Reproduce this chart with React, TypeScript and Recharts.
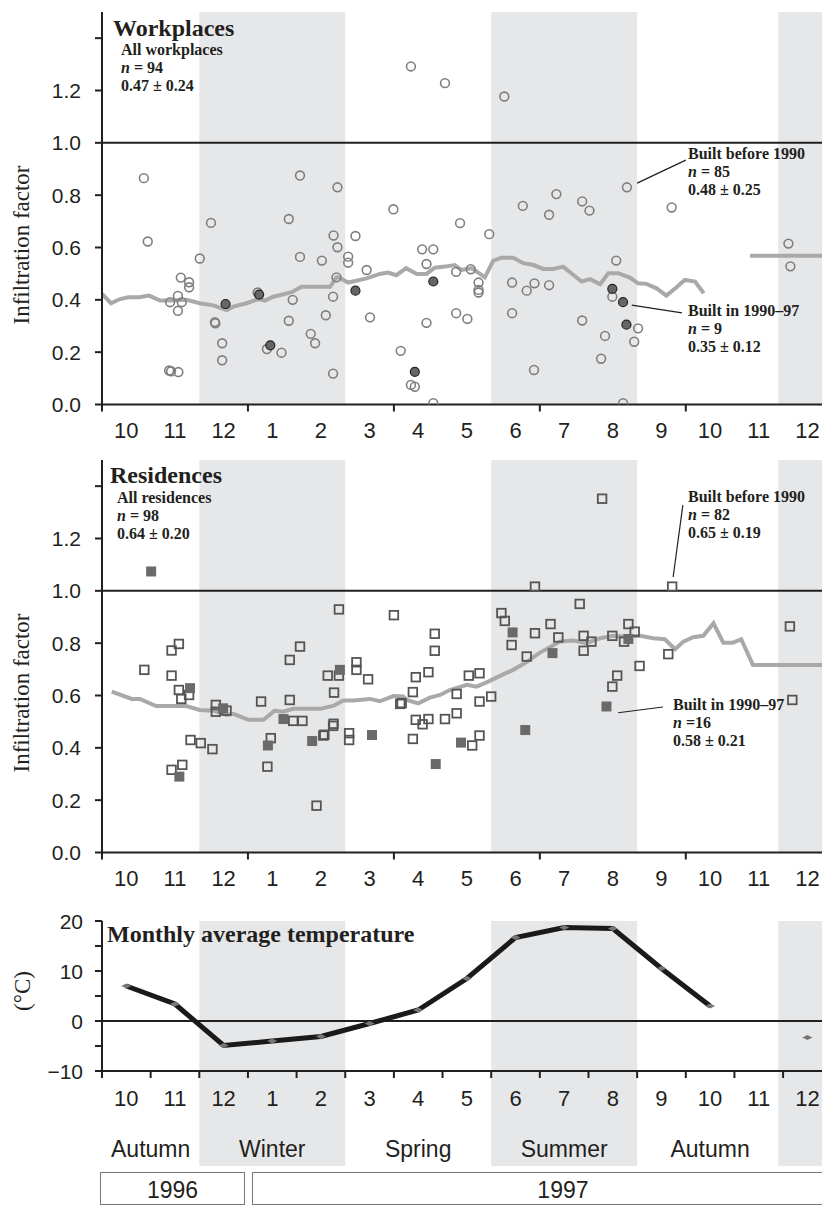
import React from 'react';
import {
  ComposedChart,
  XAxis,
  YAxis,
  Scatter,
  Line,
  ReferenceArea,
  ReferenceLine,
} from 'recharts';

// months shown on every panel, Oct 1996 .. Dec 1997 (x = months since 1 Oct 1996)
const MONTHS = ['10', '11', '12', '1', '2', '3', '4', '5', '6', '7', '8', '9', '10', '11', '12'];
const XMAX = 14.8;

const SEASONS = [
  { name: 'Autumn', from: 0, to: 2, shaded: false },
  { name: 'Winter', from: 2, to: 5, shaded: true },
  { name: 'Spring', from: 5, to: 8, shaded: false },
  { name: 'Summer', from: 8, to: 11, shaded: true },
  { name: 'Autumn', from: 11, to: 14, shaded: false },
  { name: '', from: 13.9, to: 15, shaded: true },
];

const YEARS = [
  { name: '1996', from: -0.04, to: 2.94 },
  { name: '1997', from: 3.08, to: 15.87 },
];

// workplaces, [month, infiltration factor]
const wpBefore1990 = [
  [6.35, 1.292], [0.86, 0.865], [4.07, 0.875], [4.84, 0.83], [5.99, 0.746], [2.24, 0.694],
  [3.84, 0.709], [7.05, 1.228], [8.27, 1.177], [10.79, 0.83], [9.34, 0.804], [8.65, 0.759],
  [9.87, 0.776], [10.02, 0.741], [11.71, 0.753], [9.19, 0.725], [7.36, 0.693], [0.94, 0.623],
  [2.01, 0.558], [5.21, 0.644], [4.76, 0.646], [4.84, 0.601], [4.07, 0.564], [4.52, 0.55],
  [5.06, 0.565], [5.06, 0.542], [5.44, 0.514], [4.82, 0.486], [1.62, 0.485], [1.79, 0.467],
  [1.79, 0.448], [1.56, 0.415], [1.4, 0.391], [1.64, 0.391], [1.56, 0.358], [3.2, 0.428],
  [3.92, 0.4], [4.75, 0.412], [5.51, 0.333], [2.32, 0.315], [2.33, 0.31], [3.84, 0.32],
  [4.6, 0.341], [4.29, 0.27], [4.38, 0.234], [2.47, 0.234], [3.39, 0.212], [3.69, 0.198],
  [2.47, 0.169], [1.38, 0.13], [1.42, 0.127], [1.57, 0.124], [4.75, 0.118], [6.14, 0.205],
  [6.35, 0.075], [6.43, 0.068], [6.58, 0.593], [6.81, 0.593], [7.96, 0.651], [6.67, 0.537],
  [7.28, 0.507], [7.58, 0.517], [7.74, 0.466], [7.74, 0.438], [7.74, 0.428], [8.43, 0.466],
  [8.73, 0.435], [8.89, 0.463], [9.19, 0.456], [10.57, 0.55], [10.49, 0.412], [7.28, 0.349],
  [7.51, 0.327], [8.43, 0.349], [6.67, 0.312], [9.87, 0.321], [11.02, 0.291], [10.94, 0.24],
  [10.34, 0.262], [10.26, 0.175], [8.88, 0.132], [6.81, 0.005], [10.71, 0.005], [14.11, 0.615],
  [14.15, 0.528],
];
const wpBuilt9097 = [
  [2.54, 0.384], [3.23, 0.42], [3.46, 0.226], [5.21, 0.435], [6.43, 0.125],
  [6.81, 0.47], [10.49, 0.442], [10.71, 0.391], [10.78, 0.305],
];
const wpTrend = [
  [0, 0.423], [0.185, 0.387], [0.37, 0.403], [0.54, 0.41], [0.76, 0.41], [0.97, 0.416],
  [1.19, 0.397], [1.42, 0.397], [1.74, 0.4], [2.01, 0.387], [2.29, 0.379], [2.56, 0.361],
  [2.7, 0.374], [2.97, 0.387], [3.22, 0.403], [3.35, 0.397], [3.52, 0.412], [3.9, 0.429],
  [4.1, 0.45], [4.69, 0.45], [4.82, 0.486], [4.86, 0.486], [5.06, 0.466], [5.44, 0.482],
  [5.71, 0.499], [5.88, 0.504], [6.05, 0.494], [6.25, 0.521], [6.47, 0.499], [6.67, 0.499],
  [6.84, 0.523], [7.05, 0.527], [7.25, 0.533], [7.39, 0.514], [7.6, 0.521], [7.87, 0.486],
  [8.04, 0.549], [8.21, 0.561], [8.45, 0.561], [8.66, 0.54], [8.87, 0.533], [9.07, 0.518],
  [9.28, 0.518], [9.48, 0.527], [9.69, 0.495], [9.86, 0.47], [10.03, 0.479], [10.24, 0.46],
  [10.41, 0.502], [10.61, 0.502], [10.85, 0.485], [11.02, 0.463], [11.19, 0.461], [11.4, 0.444],
  [11.6, 0.416], [11.81, 0.448], [11.98, 0.476], [12.19, 0.47], [12.37, 0.425], [12.8, null],
  [13.32, 0.568], [14.8, 0.568],
];

// residences
const resBefore1990 = [
  [4.87, 0.929], [6.0, 0.907], [1.58, 0.797], [10.28, 1.352], [8.9, 1.016], [11.72, 1.016],
  [9.82, 0.95], [8.21, 0.915], [8.28, 0.885], [9.22, 0.873], [10.82, 0.873], [10.95, 0.844],
  [14.14, 0.864], [6.84, 0.836], [8.9, 0.838], [8.42, 0.793], [9.38, 0.822], [9.9, 0.828],
  [9.9, 0.771], [10.06, 0.806], [10.49, 0.828], [10.73, 0.806], [6.84, 0.771], [8.73, 0.749],
  [11.64, 0.758], [11.05, 0.713], [10.59, 0.676], [10.49, 0.634], [14.19, 0.583], [6.45, 0.67],
  [6.71, 0.689], [7.54, 0.676], [7.76, 0.685], [6.39, 0.613], [7.29, 0.606], [6.16, 0.571],
  [7.76, 0.577], [8.0, 0.596], [6.45, 0.507], [6.59, 0.49], [6.71, 0.51], [7.05, 0.51],
  [7.29, 0.532], [6.39, 0.434], [7.76, 0.447], [7.61, 0.409], [0.87, 0.698], [1.43, 0.772],
  [1.43, 0.676], [1.58, 0.621], [1.63, 0.587], [1.79, 0.602], [1.82, 0.43], [2.03, 0.418],
  [2.27, 0.395], [1.43, 0.316], [1.65, 0.335], [2.34, 0.564], [2.34, 0.538], [2.56, 0.542],
  [3.27, 0.577], [3.86, 0.736], [4.07, 0.787], [3.86, 0.583], [3.93, 0.503], [4.12, 0.503],
  [3.47, 0.437], [3.4, 0.328], [4.64, 0.676], [4.87, 0.676], [4.77, 0.611], [4.75, 0.484],
  [4.76, 0.492], [4.55, 0.447], [4.57, 0.45], [4.41, 0.179], [5.23, 0.727], [5.23, 0.698],
  [5.47, 0.662], [5.08, 0.456], [5.08, 0.43], [6.13, 0.568],
];
const resBuilt9097 = [
  [1.01, 1.074], [8.44, 0.841], [10.82, 0.816], [9.26, 0.762], [10.37, 0.558], [7.38, 0.42],
  [6.86, 0.338], [8.7, 0.468], [1.81, 0.628], [1.59, 0.29], [2.49, 0.551], [3.73, 0.51],
  [3.41, 0.409], [4.89, 0.698], [4.32, 0.426], [5.55, 0.449],
];
const resTrend = [
  [0.2, 0.615], [0.61, 0.587], [0.78, 0.587], [1.11, 0.56], [1.73, 0.56], [2.01, 0.545],
  [2.29, 0.542], [2.56, 0.526], [2.7, 0.53], [3.01, 0.507], [3.32, 0.507], [3.55, 0.542],
  [3.72, 0.538], [3.93, 0.549], [4.48, 0.549], [4.75, 0.56], [4.96, 0.581], [5.17, 0.581],
  [5.51, 0.587], [5.71, 0.578], [5.99, 0.598], [6.19, 0.596], [6.26, 0.583], [6.5, 0.57],
  [6.74, 0.592], [6.95, 0.602], [7.15, 0.621], [7.5, 0.641], [7.7, 0.634], [7.94, 0.653],
  [8.18, 0.675], [8.45, 0.698], [8.69, 0.723], [9.0, 0.764], [9.17, 0.781], [9.41, 0.806],
  [9.69, 0.81], [9.96, 0.8], [10.24, 0.819], [10.51, 0.828], [10.78, 0.825], [11.06, 0.828],
  [11.33, 0.819], [11.57, 0.815], [11.78, 0.777], [11.95, 0.806], [12.15, 0.823], [12.36, 0.828],
  [12.57, 0.876], [12.77, 0.802], [12.97, 0.802], [13.14, 0.815], [13.38, 0.717], [14.8, 0.717],
];

// monthly average temperature (°C), one per month label, Nov 1997 missing
const TEMPS = [7.0, 3.4, -4.9, -4.0, -3.1, -0.5, 2.2, 8.5, 16.7, 18.7, 18.5, 10.5, 3.0, null, -3.3];

const FACTOR_TICKS = [0, 0.2, 0.4, 0.6, 0.8, 1.0, 1.2, 1.4];
const TEMP_TICKS = [-10, -5, 0, 5, 10, 15, 20];

const INK = '#231f20';
const BAND = '#e6e7e9';
const SANS = '"Liberation Sans", Arial, sans-serif';
const SERIF = '"Liberation Serif", "Times New Roman", serif';

const rows = (pts: (number | null)[][]) => pts.map(([m, v]) => ({ m, v }));
const tempRows = TEMPS.map((v, i) => ({ m: i + 0.5, v }));
const X_TICKS = MONTHS.flatMap((_, i) => [i, i + 0.5]);
const QUARTER_MARKS = [0, 3, 6, 9, 12];
const MONTH_MARKS = MONTHS.map((_, i) => i);
const SHADED = SEASONS.filter((s) => s.shaded);

function monthTick(marks: number[], labelDy: number) {
  return (props: any) => {
    const { x, y, payload } = props;
    const v = payload.value;
    if (Number.isInteger(v)) {
      if (!marks.includes(v)) return <g />;
      return <line x1={x} x2={x} y1={y} y2={y + 7} stroke={INK} strokeWidth={2} />;
    }
    return (
      <text x={x} y={y + labelDy} textAnchor="middle" fontSize={22} fontFamily={SANS} fill={INK}>
        {MONTHS[Math.floor(v)]}
      </text>
    );
  };
}

function valueTick(show: (v: number) => boolean, fmt: (v: number) => string) {
  return (props: any) => {
    const { x, y, payload } = props;
    if (!show(payload.value)) return <g />;
    return (
      <text x={x} y={y} dy="0.36em" textAnchor="end" fontSize={21} fontFamily={SANS} fill={INK}>
        {fmt(payload.value)}
      </text>
    );
  };
}

const openCircle = (p: any) => (
  <circle cx={p.cx} cy={p.cy} r={4.4} fill="none" stroke="#7f7f7f" strokeWidth={1.6} />
);
const filledCircle = (p: any) => (
  <circle cx={p.cx} cy={p.cy} r={4.5} fill="#666" stroke="#222" strokeWidth={1.2} />
);
const openSquare = (p: any) => (
  <rect x={p.cx - 4.3} y={p.cy - 4.3} width={8.6} height={8.6} fill="none" stroke="#555" strokeWidth={1.8} />
);
const filledSquare = (p: any) => (
  <rect x={p.cx - 5} y={p.cy - 5} width={10} height={10} fill="#6a6a6a" />
);

function Stats({ x, y, title, n, stat }: { x: number; y: number; title: string; n: string; stat: string }) {
  return (
    <text fontFamily={SERIF} fontWeight="bold" fontSize={16} fill={INK}>
      <tspan x={x} y={y}>{title}</tspan>
      <tspan x={x} y={y + 18}>
        <tspan fontStyle="italic">n</tspan>
        {n}
      </tspan>
      <tspan x={x} y={y + 35.5}>{stat}</tspan>
    </text>
  );
}

// svg laid over a chart so that the notes sit above the shaded bands
function Overlay({ height, children }: { height: number; children: React.ReactNode }) {
  return (
    <svg width={822} height={height} style={{ position: 'absolute', left: 0, top: 0, pointerEvents: 'none' }}>
      {children}
    </svg>
  );
}

function FactorPanel(props: {
  top: number;
  open: any[];
  filled: any[];
  trend: any[];
  openShape: any;
  filledShape: any;
  leaders: { x: number; y: number }[][];
  notes: React.ReactNode;
}) {
  return (
    <div style={{ position: 'absolute', left: 0, top: props.top, width: 822, height: 450 }}>
      <ComposedChart width={822} height={450} margin={{ top: 12, right: 0, bottom: 0, left: 0 }}>
        <XAxis
          type="number"
          dataKey="m"
          domain={[0, XMAX]}
          allowDataOverflow
          ticks={X_TICKS}
          interval={0}
          tickSize={0}
          tickMargin={0}
          tickLine={false}
          axisLine={{ stroke: INK, strokeWidth: 2 }}
          tick={monthTick(QUARTER_MARKS, 33)}
          height={45.5}
        />
        <YAxis
          type="number"
          dataKey="v"
          domain={[0, 1.5]}
          allowDataOverflow
          ticks={FACTOR_TICKS}
          interval={0}
          width={102}
          tickSize={7}
          tickMargin={14}
          axisLine={{ stroke: INK, strokeWidth: 2 }}
          tickLine={{ stroke: INK, strokeWidth: 2 }}
          tick={valueTick((v) => v < 1.3, (v) => v.toFixed(1))}
        />
        {SHADED.map((s) => (
          <ReferenceArea key={s.from} x1={s.from} x2={Math.min(s.to, XMAX)} y1={0} y2={1.5}
            fill={BAND} fillOpacity={1} stroke="none" />
        ))}
        <ReferenceLine y={1} stroke={INK} strokeWidth={2} />
        {props.leaders.map((seg, i) => (
          <ReferenceLine key={i} segment={seg} stroke={INK} strokeWidth={1.2} />
        ))}
        <Line data={props.trend} dataKey="v" stroke="#a9a9a9" strokeWidth={4} dot={false}
          connectNulls={false} isAnimationActive={false} />
        <Scatter data={props.open} dataKey="v" shape={props.openShape} isAnimationActive={false} />
        <Scatter data={props.filled} dataKey="v" shape={props.filledShape} isAnimationActive={false} />
      </ComposedChart>
      <Overlay height={450}>
        <text x={21} y={245} transform="rotate(-90 21 245)" textAnchor="middle" dominantBaseline="central"
          fontFamily={SERIF} fontSize={23} fill={INK}>
          Infiltration factor
        </text>
        {props.notes}
      </Overlay>
    </div>
  );
}

export default function App() {
  return (
    <div style={{ position: 'absolute', left: 0, top: 0, width: 822, height: 1205, overflow: 'hidden', background: '#fff' }}>
      <FactorPanel
        top={0}
        open={rows(wpBefore1990)}
        filled={rows(wpBuilt9097)}
        trend={rows(wpTrend)}
        openShape={openCircle}
        filledShape={filledCircle}
        leaders={[
          [{ x: 11.0, y: 0.846 }, { x: 12.0, y: 0.934 }],
          [{ x: 10.89, y: 0.38 }, { x: 11.92, y: 0.35 }],
        ]}
        notes={
          <>
            <text x={113} y={36} fontFamily={SERIF} fontWeight="bold" fontSize={24} fill={INK}>Workplaces</text>
            <Stats x={121} y={55} title="All workplaces" n=" = 94" stat="0.47 ± 0.24" />
            <Stats x={688} y={159} title="Built before 1990" n=" = 85" stat="0.48 ± 0.25" />
            <Stats x={688} y={316} title="Built in 1990–97" n=" = 9" stat="0.35 ± 0.12" />
          </>
        }
      />

      <FactorPanel
        top={448}
        open={rows(resBefore1990)}
        filled={rows(resBuilt9097)}
        trend={rows(resTrend)}
        openShape={openSquare}
        filledShape={filledSquare}
        leaders={[
          [{ x: 11.74, y: 1.053 }, { x: 11.94, y: 1.328 }],
          [{ x: 10.61, y: 0.534 }, { x: 11.53, y: 0.556 }],
        ]}
        notes={
          <>
            <text x={110} y={35} fontFamily={SERIF} fontWeight="bold" fontSize={24} fill={INK}>Residences</text>
            <Stats x={117} y={55} title="All residences" n=" = 98" stat="0.64 ± 0.20" />
            <Stats x={688} y={54} title="Built before 1990" n=" = 82" stat="0.65 ± 0.19" />
            <Stats x={673} y={262} title="Built in 1990–97" n=" =16" stat="0.58 ± 0.21" />
          </>
        }
      />

      {/* season strip sits behind the temperature panel */}
      <div style={{ position: 'absolute', left: 0, top: 1071 }}>
        <ComposedChart width={822} height={95} margin={{ top: 0, right: 0, bottom: 0, left: 102 }}
          data={SEASONS.map((s) => ({ m: (s.from + s.to) / 2, v: 0.5 }))}>
          <XAxis type="number" dataKey="m" domain={[0, XMAX]} allowDataOverflow hide />
          <YAxis type="number" dataKey="v" domain={[0, 1]} allowDataOverflow hide />
          {SHADED.map((s) => (
            <ReferenceArea key={`band${s.from}`} x1={s.from} x2={Math.min(s.to, XMAX)} y1={0} y2={1}
              fill={BAND} fillOpacity={1} stroke="none" />
          ))}
          {SEASONS.filter((s) => s.name).map((s, i) => (
            <ReferenceArea key={i} x1={s.from} x2={Math.min(s.to, XMAX)} y1={0} y2={1}
              fill="none" stroke="none"
              label={{ value: s.name, position: 'insideBottom', offset: 9, fontSize: 23, fontFamily: SANS, fill: INK }} />
          ))}
        </ComposedChart>
      </div>

      <div style={{ position: 'absolute', left: 0, top: 900, width: 822, height: 216 }}>
        <ComposedChart width={822} height={216} margin={{ top: 21, right: 0, bottom: 0, left: 0 }} data={tempRows}>
          <XAxis
            type="number"
            dataKey="m"
            domain={[0, XMAX]}
            allowDataOverflow
            ticks={X_TICKS}
            interval={0}
            tickSize={0}
            tickMargin={0}
            tickLine={false}
            axisLine={{ stroke: INK, strokeWidth: 2 }}
            tick={monthTick(MONTH_MARKS, 35)}
            height={45}
          />
          <YAxis
            type="number"
            dataKey="v"
            domain={[-10, 20]}
            allowDataOverflow
            ticks={TEMP_TICKS}
            interval={0}
            width={102}
            tickSize={7}
            tickMargin={12}
            axisLine={{ stroke: INK, strokeWidth: 2 }}
            tickLine={{ stroke: INK, strokeWidth: 2 }}
            tick={valueTick((v) => v % 10 === 0, (v) => (v < 0 ? `−${-v}` : `${v}`))}
          />
          {SHADED.map((s) => (
            <ReferenceArea key={s.from} x1={s.from} x2={Math.min(s.to, XMAX)} y1={-10} y2={20}
              fill={BAND} fillOpacity={1} stroke="none" />
          ))}
          <ReferenceLine y={0} stroke={INK} strokeWidth={2} />
          <Line
            dataKey="v"
            stroke="#1a1a1a"
            strokeWidth={5}
            connectNulls={false}
            isAnimationActive={false}
            dot={(p: any) =>
              p.cy == null || p.value == null ? (
                <g key={p.index} />
              ) : (
                <path key={p.index} d={`M${p.cx - 5},${p.cy} L${p.cx},${p.cy - 2.5} L${p.cx + 5},${p.cy} L${p.cx},${p.cy + 2.5} Z`}
                  fill="#777" />
              )
            }
          />
        </ComposedChart>
        <Overlay height={216}>
          <text x={107} y={42} fontFamily={SERIF} fontWeight="bold" fontSize={24} fill={INK}>
            Monthly average temperature
          </text>
          <text x={22} y={91} transform="rotate(-90 22 91)" textAnchor="middle" dominantBaseline="central"
            fontFamily={SERIF} fontSize={23} fill={INK}>
            (°C)
          </text>
        </Overlay>
      </div>

      {YEARS.map((y) => (
        <div key={y.name} style={{
          position: 'absolute', top: 1172, height: 33, boxSizing: 'border-box',
          left: 102 + y.from * 48.65, width: (y.to - y.from) * 48.65,
          border: '1.5px solid #777', display: 'flex', alignItems: 'center', justifyContent: 'center',
          paddingTop: 4, fontFamily: SANS, fontSize: 23, color: INK,
        }}>
          {y.name}
        </div>
      ))}
    </div>
  );
}
